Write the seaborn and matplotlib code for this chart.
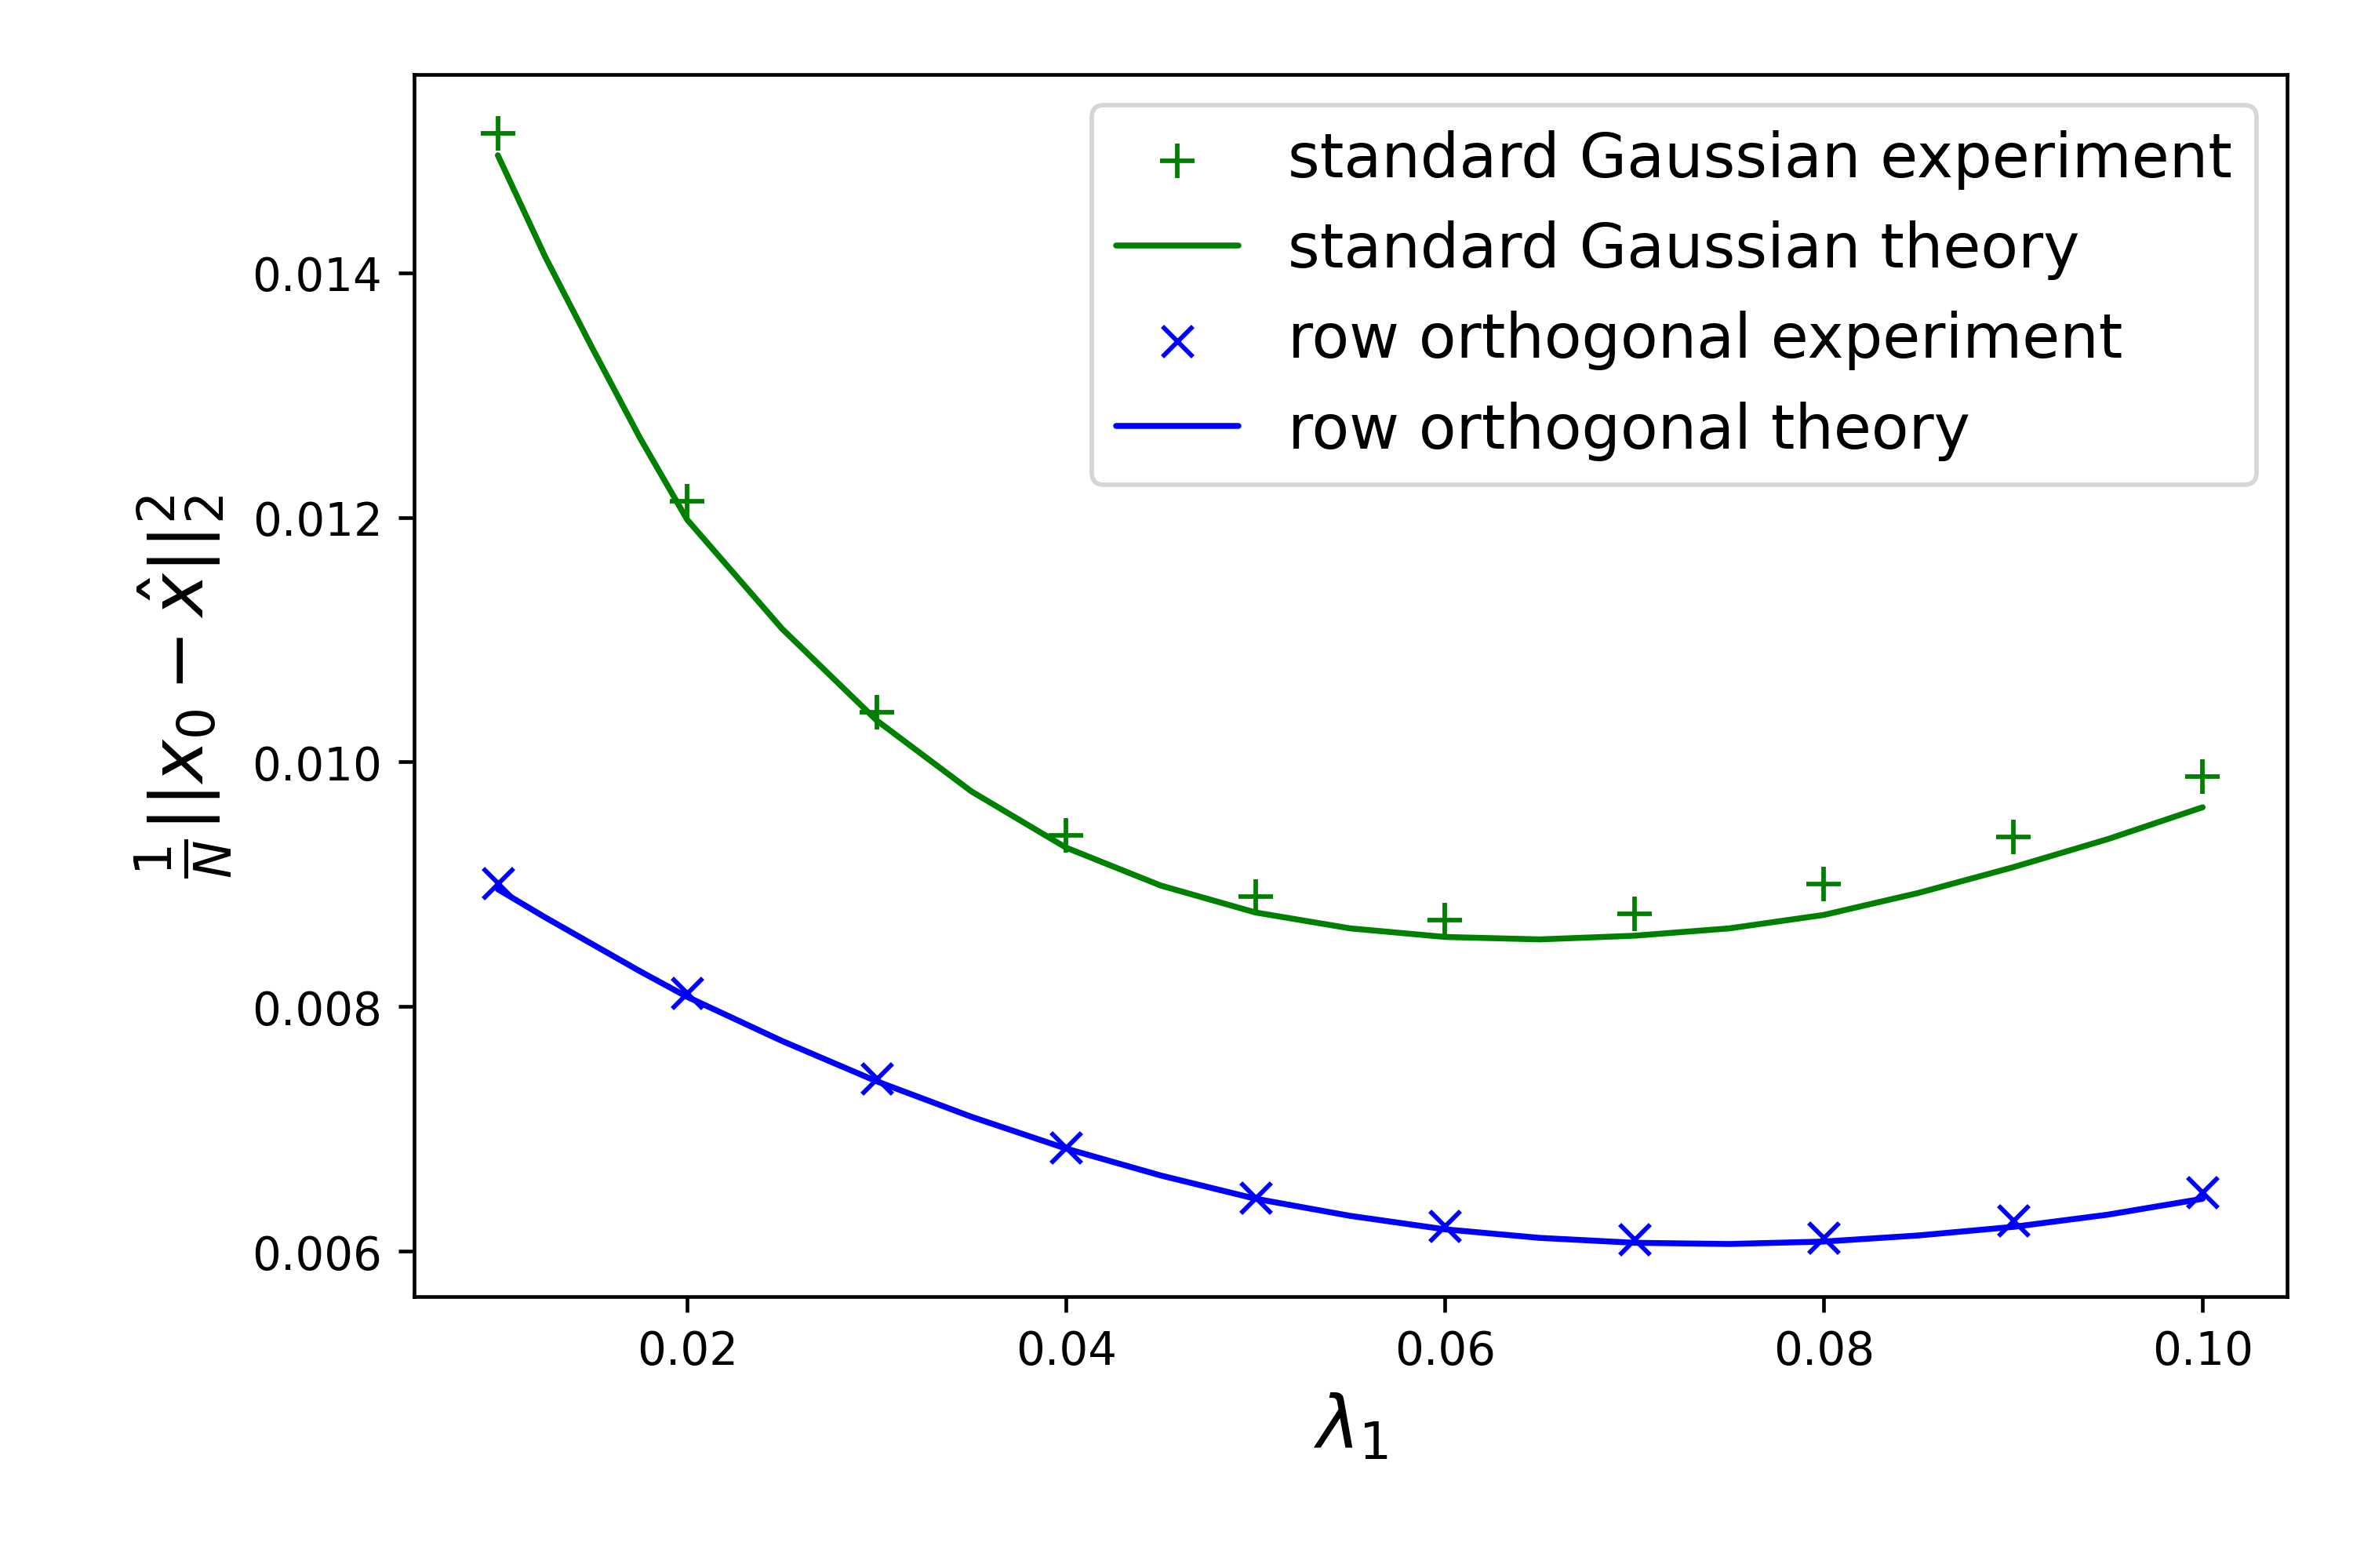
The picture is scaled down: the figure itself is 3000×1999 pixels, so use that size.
import numpy as np
import pandas as pd
import matplotlib
matplotlib.use('Agg')
import matplotlib.pyplot as plt
import seaborn as sns

lam_exp = [0.01, 0.02, 0.03, 0.04, 0.05, 0.06, 0.07, 0.08, 0.09, 0.10]
gauss_exp = [0.01514, 0.01213, 0.01041, 0.00940, 0.00890, 0.00871, 0.00876, 0.00900, 0.00939, 0.00988]
orth_exp = [0.00901, 0.00811, 0.00741, 0.00685, 0.00644, 0.00621, 0.00610, 0.00611, 0.00625, 0.00648]

lam_th = [0.010, 0.0125, 0.015, 0.0175, 0.020, 0.025, 0.030, 0.035, 0.040, 0.045, 0.050, 0.055,
          0.060, 0.065, 0.070, 0.075, 0.080, 0.085, 0.090, 0.095, 0.100]
gauss_th = [0.01496, 0.01413, 0.01338, 0.01265, 0.01198, 0.01109, 0.01034, 0.00976, 0.00930, 0.00899,
            0.00877, 0.00864, 0.00857, 0.00855, 0.00858, 0.00864, 0.00875, 0.00893, 0.00914, 0.00937, 0.00963]
orth_th = [0.00896, 0.00873, 0.00851, 0.00829, 0.00808, 0.00772, 0.00739, 0.00710, 0.00684, 0.00662,
           0.00643, 0.00629, 0.00618, 0.00611, 0.00607, 0.00606, 0.00608, 0.00613, 0.00620, 0.00630, 0.00643]

sns.set_style('ticks', {'axes.edgecolor': 'black', 'xtick.color': 'black',
                        'ytick.color': 'black', 'text.color': 'black',
                        'axes.labelcolor': 'black'})
plt.rcParams['font.family'] = ['DejaVu Sans']

fig, ax = plt.subplots(figsize=(7.2, 4.8), dpi=3000 / 7.2)
sns.scatterplot(x=lam_exp, y=gauss_exp, marker='+', color='green', s=60, linewidth=1.0,
                label='standard Gaussian experiment', ax=ax)
sns.lineplot(x=lam_th, y=gauss_th, color='green', linewidth=1.3,
             label='standard Gaussian theory', ax=ax)
sns.scatterplot(x=lam_exp, y=orth_exp, marker='x', color='blue', s=45, linewidth=1.0,
                label='row orthogonal experiment', ax=ax)
sns.lineplot(x=lam_th, y=orth_th, color='blue', linewidth=1.3,
             label='row orthogonal theory', ax=ax)

ax.set_xlim(0.00558, 0.10446)
ax.set_ylim(0.00563, 0.01562)
ax.set_xticks([0.02, 0.04, 0.06, 0.08, 0.10])
ax.set_yticks([0.006, 0.008, 0.010, 0.012, 0.014])
ax.tick_params(labelsize=10)
ax.set_xlabel(r'$\lambda_1$', fontsize=16)
ax.set_ylabel(r'$\frac{1}{N}||x_0-\hat{x}||_2^2$', fontsize=16)
ax.legend(fontsize=13.5, loc='upper right')
fig.subplots_adjust(left=0.176, right=0.972, top=0.952, bottom=0.173)
fig.savefig('out.png', dpi=3000 / 7.2)
